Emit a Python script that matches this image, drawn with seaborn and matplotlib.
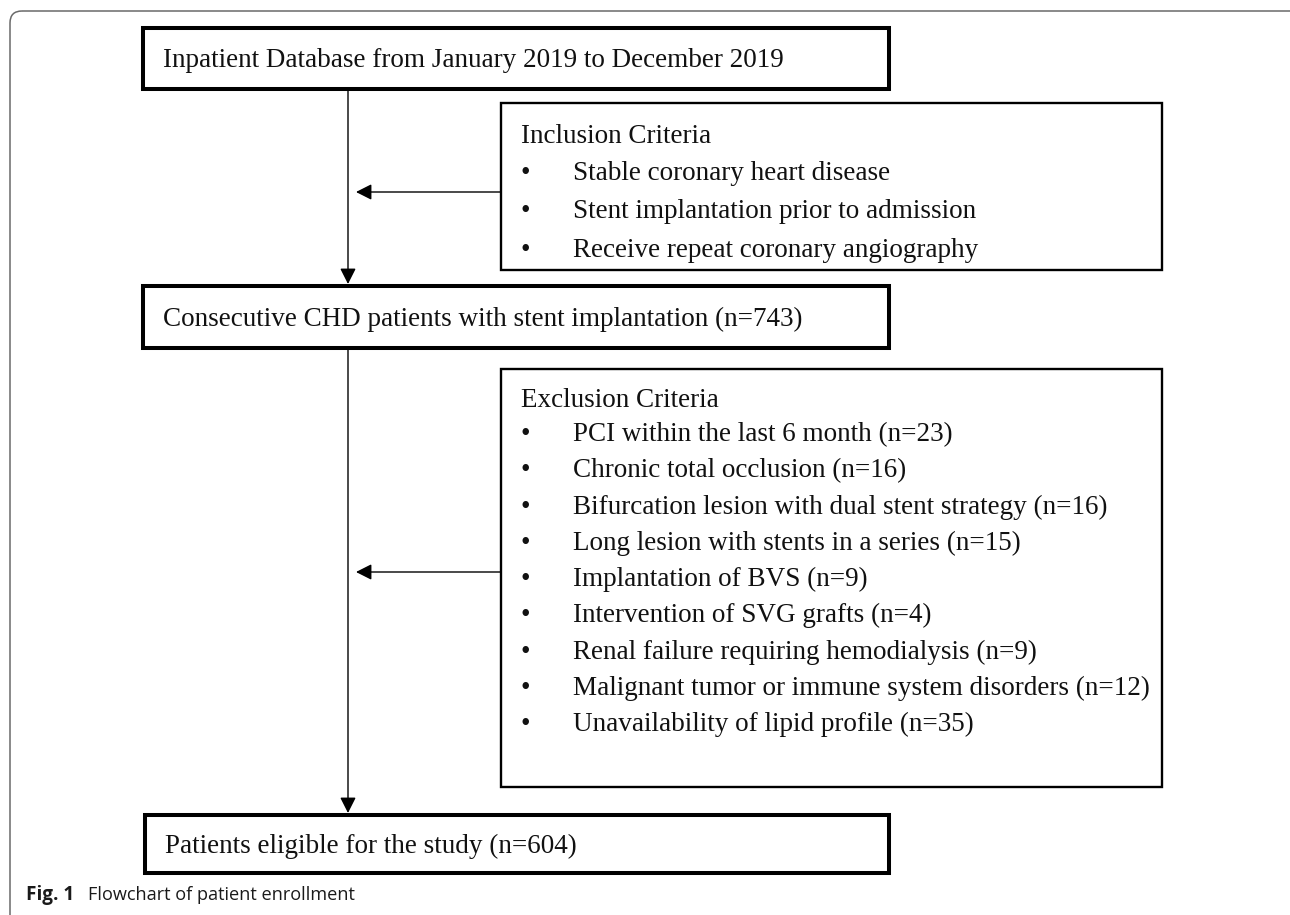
import matplotlib
matplotlib.use("Agg")
import matplotlib.pyplot as plt
import seaborn as sns
from matplotlib.patches import Rectangle, FancyBboxPatch

# ---- content of the flowchart ----
top_box = "Inpatient Database from January 2019 to December 2019"
middle_box = "Consecutive CHD patients with stent implantation (n=743)"
bottom_box = "Patients eligible for the study (n=604)"

inclusion_title = "Inclusion Criteria"
inclusion_items = [
    "Stable coronary heart disease",
    "Stent implantation prior to admission",
    "Receive repeat coronary angiography",
]

exclusion_title = "Exclusion Criteria"
exclusion_items = [
    "PCI within the last 6 month (n=23)",
    "Chronic total occlusion (n=16)",
    "Bifurcation lesion with dual stent strategy (n=16)",
    "Long lesion with stents in a series (n=15)",
    "Implantation of BVS (n=9)",
    "Intervention of SVG grafts (n=4)",
    "Renal failure requiring hemodialysis (n=9)",
    "Malignant tumor or immune system disorders (n=12)",
    "Unavailability of lipid profile (n=35)",
]

caption_bold = "Fig. 1"
caption_text = "Flowchart of patient enrollment"

sns.set_theme(style="white")
serif = ["Liberation Serif", "DejaVu Serif"]
sans = ["Open Sans", "DejaVu Sans"]
FS = 19.5

fig = plt.figure(figsize=(12.9, 9.15), dpi=100)
ax = fig.add_axes([0, 0, 1, 1])
ax.set_xlim(0, 1290)
ax.set_ylim(915, 0)
ax.axis("off")

# outer rounded frame, only the top and left sides fall inside the picture
ax.add_patch(FancyBboxPatch((10, 11), 1400, 1000, boxstyle="round,pad=0,rounding_size=12",
                            fill=False, ec="#6a6a6a", lw=1.1))


def box(x0, y0, x1, y1, lw):
    ax.add_patch(Rectangle((x0, y0), x1 - x0, y1 - y0, fill=False, ec="black", lw=lw))


def arrow(x0, y0, x1, y1):
    ax.annotate("", xy=(x1, y1), xytext=(x0, y0),
                arrowprops=dict(arrowstyle="-|>,head_length=0.95,head_width=0.48",
                                color="black", lw=1.0, shrinkA=0, shrinkB=0,
                                mutation_scale=10))


def line_text(x, y, s, **kw):
    ax.text(x, y, s, fontsize=FS, family=serif, color="#111111",
            va="baseline", ha="left", **kw)


# main boxes
box(143, 28, 889, 89, 2.9)
line_text(163, 67, top_box)

box(143, 286, 889, 348, 2.9)
line_text(163, 326, middle_box)

box(145, 815, 889, 873, 2.9)
line_text(165, 853, bottom_box)

# criteria boxes
box(501, 103, 1162, 270, 1.7)
line_text(521, 143, inclusion_title)
for i, item in enumerate(inclusion_items):
    yb = 180 + 38.3 * i
    line_text(520, yb, "\u2022")
    line_text(573, yb, item)

box(501, 369, 1162, 787, 1.7)
line_text(521, 407, exclusion_title)
for i, item in enumerate(exclusion_items):
    yb = 441 + 36.3 * i
    line_text(520, yb, "\u2022")
    line_text(573, yb, item)

# connectors
arrow(348, 89, 348, 284)
arrow(348, 348, 348, 813)
arrow(501, 192, 356, 192)
arrow(501, 572, 356, 572)

# caption
ax.text(26, 900, caption_bold, fontsize=13.6, family=sans,
        fontweight="bold", va="baseline", ha="left", color="#1a1a1a")
ax.text(88, 900, caption_text, fontsize=13.1, family=sans,
        va="baseline", ha="left", color="#1a1a1a")

fig.savefig("out.png", dpi=100, facecolor="white")
